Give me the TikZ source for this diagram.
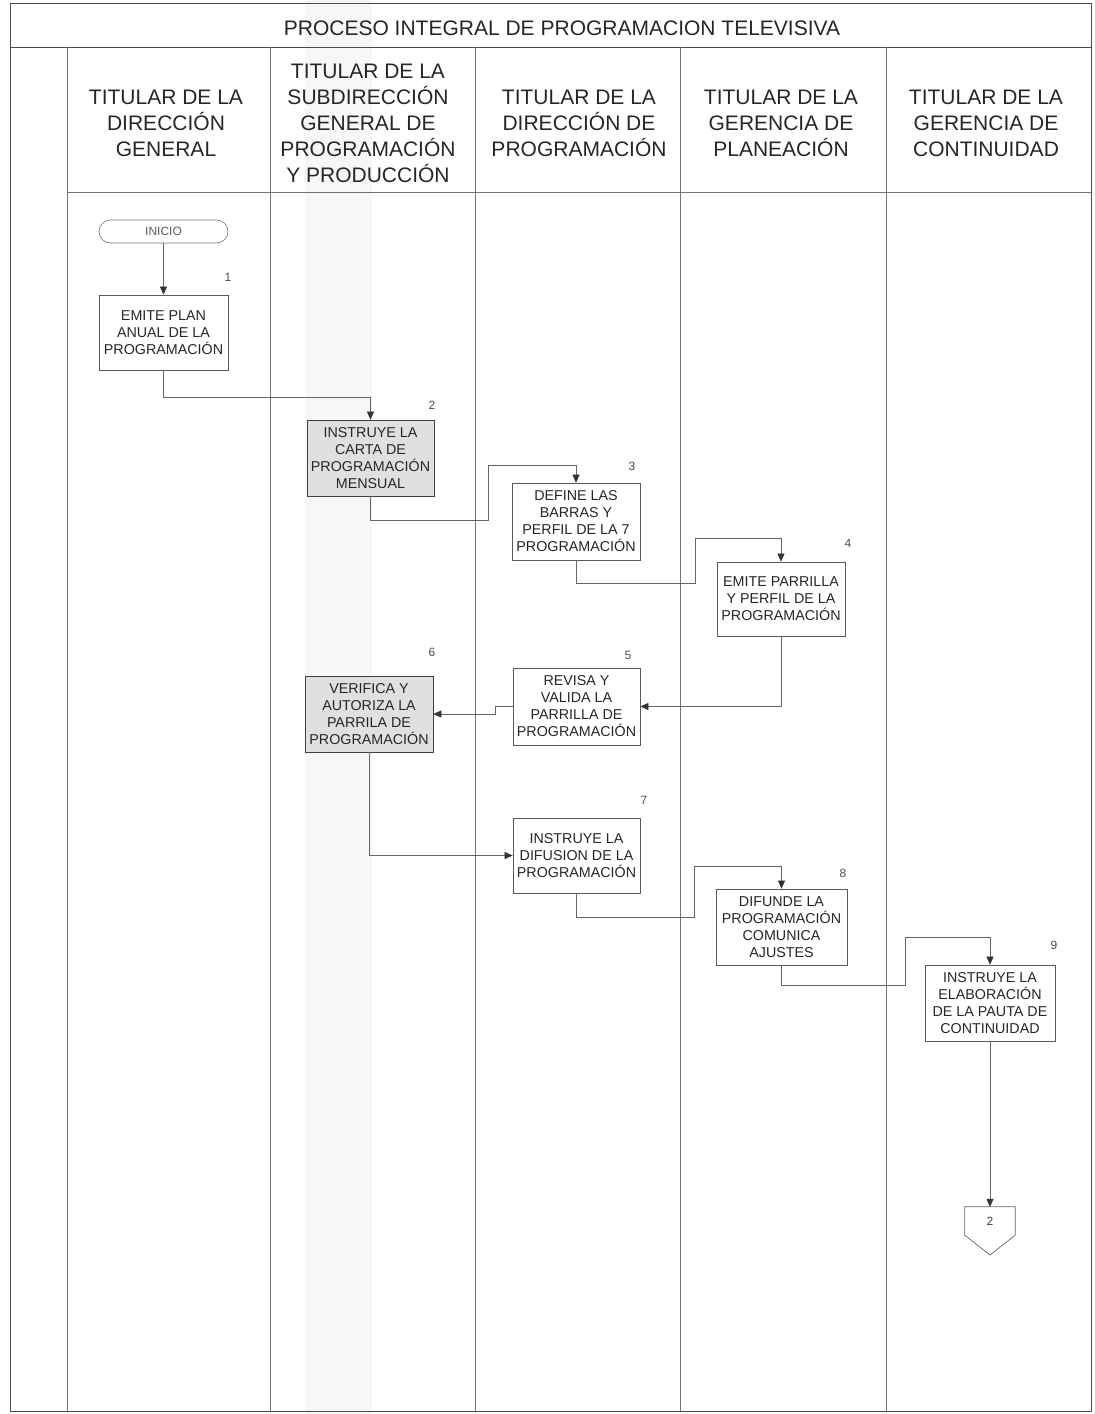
\documentclass[tikz,border=0pt]{standalone}
\usepackage{fontspec}
\setmainfont{Liberation Sans}
\usetikzlibrary{arrows.meta}
\begin{document}
\begin{tikzpicture}[x=1pt,y=-1pt,
  frameline/.style={draw=black!70, line width=0.8pt},
  laneline/.style={draw=black!55, line width=0.6pt},
  box/.style={draw=black!65, line width=0.7pt, fill=white, align=center, inner sep=0pt,
    font=\fontsize{14.3}{17}\selectfont, text=black!85},
  shaded/.style={box, fill=black!12, draw=black!75},
  conn/.style={draw=black!60, line width=0.6pt},
  arr/.style={conn, -{Triangle[length=8pt,width=7pt,color=black!80]}},
  num/.style={font=\fontsize{12}{12}\selectfont, text=black!70, inner sep=0pt},
  hdr/.style={align=center, font=\fontsize{21}{26}\selectfont, text=black!85, inner sep=0pt}
]
\useasboundingbox (0,0) rectangle (1095,1414);
% faint scan band
\fill[black!3] (305,0) rectangle (372,1414);
% frame
\draw[frameline] (10,3) rectangle (1091,1411);
\draw[frameline] (10,47) -- (1091,47);
\draw[laneline] (67,192) -- (1091,192);
\foreach \xx in {67,270,475,680,886} \draw[laneline] (\xx,47) -- (\xx,1411);
% title and headers
\node[hdr] (title) at (562,28) {PROCESO INTEGRAL DE PROGRAMACION TELEVISIVA};
\node[hdr] (h1) at (166,123) {TITULAR DE LA\\DIRECCIÓN\\GENERAL};
\node[hdr] (h2) at (368,123) {TITULAR DE LA\\SUBDIRECCIÓN\\GENERAL DE\\PROGRAMACIÓN\\Y PRODUCCIÓN};
\node[hdr] (h3) at (579,123) {TITULAR DE LA\\DIRECCIÓN DE\\PROGRAMACIÓN};
\node[hdr] (h4) at (781,123) {TITULAR DE LA\\GERENCIA DE\\PLANEACIÓN};
\node[hdr] (h5) at (986,123) {TITULAR DE LA\\GERENCIA DE\\CONTINUIDAD};
% start
\node[draw=black!55, line width=0.6pt, rounded corners=11.5pt, minimum width=129pt, minimum height=23pt,
  inner sep=0pt, font=\fontsize{12}{12}\selectfont, text=black!65] (ini) at (163.5,231.5) {INICIO};
% boxes
\node[box, minimum width=129pt, minimum height=75pt] (b1) at (163.5,332.5) {EMITE PLAN\\ANUAL DE LA\\PROGRAMACIÓN};
\node[shaded, minimum width=127pt, minimum height=76pt] (b2) at (370.5,458) {INSTRUYE LA\\CARTA DE\\PROGRAMACIÓN\\MENSUAL};
\node[box, minimum width=128pt, minimum height=77pt] (b3) at (576,521.5) {DEFINE LAS\\BARRAS Y\\PERFIL DE LA 7\\PROGRAMACIÓN};
\node[box, minimum width=128pt, minimum height=74pt] (b4) at (781,599) {EMITE PARRILLA\\Y PERFIL DE LA\\PROGRAMACIÓN};
\node[box, minimum width=127pt, minimum height=77pt] (b5) at (576.5,706.5) {REVISA Y\\VALIDA LA\\PARRILLA DE\\PROGRAMACIÓN};
\node[shaded, minimum width=128pt, minimum height=76pt] (b6) at (369,714) {VERIFICA Y\\AUTORIZA LA\\PARRILA DE\\PROGRAMACIÓN};
\node[box, minimum width=127pt, minimum height=75pt] (b7) at (576.5,855.5) {INSTRUYE LA\\DIFUSION DE LA\\PROGRAMACIÓN};
\node[box, minimum width=131pt, minimum height=76pt] (b8) at (781.5,927) {DIFUNDE LA\\PROGRAMACIÓN\\COMUNICA\\AJUSTES};
\node[box, minimum width=130pt, minimum height=76pt] (b9) at (990,1003) {INSTRUYE LA\\ELABORACIÓN\\DE LA PAUTA DE\\CONTINUIDAD};
% step numbers
\node[num] (n1) at (228,277) {1};
\node[num] (n2) at (432,405) {2};
\node[num] (n3) at (632,466) {3};
\node[num] (n4) at (848,543) {4};
\node[num] (n5) at (628,655) {5};
\node[num] (n6) at (432,652) {6};
\node[num] (n7) at (644,800) {7};
\node[num] (n8) at (843,873) {8};
\node[num] (n9) at (1054,945) {9};
% off-page connector
\node[inner sep=0pt, minimum width=50pt, minimum height=28pt, font=\fontsize{12}{12}\selectfont, text=black!75] (off) at (990,1221) {2};
\draw[conn, line width=0.7pt] (off.north west) -- (off.north east) -- (off.south east) -- (990,1255) -- (off.south west) -- cycle;
% connectors
\draw[arr] (ini) -- (b1);
\draw[arr] (b1.south) -- (163.5,397) -| (b2.north);
\draw[arr] (b2.south) |- (488,520) -- (488,465) -| (b3.north);
\draw[arr] (b3.south) |- (695,583) -- (695,538) -| (b4.north);
\draw[arr] (b4.south) |- (b5.east);
\draw[arr] (b5.west) -- (495,706.5) -- (495,714) -- (b6.east);
\draw[arr] (b6.south) |- (b7.west);
\draw[arr] (b7.south) |- (694,917) -- (694,866) -| (b8.north);
\draw[arr] (b8.south) |- (905,985) -- (905,937) -| (b9.north);
\draw[arr] (b9.south) -- (off.north);
\end{tikzpicture}
\end{document}
